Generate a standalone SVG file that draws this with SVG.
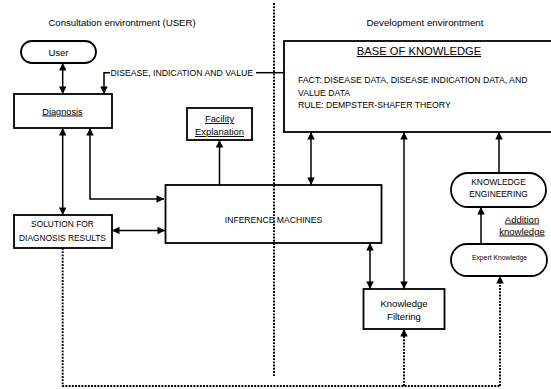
<svg xmlns="http://www.w3.org/2000/svg" width="551" height="389" viewBox="0 0 551 389">
<style>
text{font-family:"Liberation Sans",Arial,sans-serif;fill:#000}
.box{fill:#fff;stroke:#000;stroke-width:1.8}
.ln{fill:none;stroke:#000;stroke-width:1.5}
.dot{fill:none;stroke:#000;stroke-width:1.9;stroke-dasharray:1.9 1.3}
.u{text-decoration:underline}
.c{text-anchor:middle}
</style>
<defs>
<marker id="ah" viewBox="0 0 10 10" refX="10" refY="5" markerWidth="9" markerHeight="7.5" markerUnits="userSpaceOnUse" orient="auto-start-reverse">
<path d="M0,0 L10,5 L0,10 z" fill="#000"/>
</marker>
</defs>
<rect width="551" height="389" fill="#fff"/>
<text x="122" y="26" class="c" font-size="9.6">Consultation environtment (USER)</text>
<text x="425" y="26" class="c" font-size="9.8">Development environtment</text>

<g id="base">
<rect class="box" x="284" y="41" width="280" height="91" stroke-width="2"/>
<text x="419" y="55" class="c u" font-size="11.2">BASE OF KNOWLEDGE</text>
<text x="298" y="83" font-size="8.7">FACT: DISEASE DATA, DISEASE INDICATION DATA, AND</text>
<text x="298" y="96" font-size="8.7">VALUE DATA</text>
<text x="298" y="108" font-size="8.7">RULE: DEMPSTER-SHAFER THEORY</text>
</g>
<g id="user">
<rect class="box" x="21" y="41" width="75" height="22" rx="11"/>
<text x="58.5" y="55.5" class="c" font-size="9.5">User</text>
</g>
<g id="diagnosis">
<rect class="box" x="14" y="94" width="98" height="34"/>
<text x="62.5" y="114.5" class="c u" font-size="9.2">Diagnosis</text>
</g>
<g id="facility">
<rect class="box" x="187" y="108" width="65" height="32"/>
<text x="219.5" y="122" class="c u" font-size="9.4">Facility</text>
<text x="219.5" y="135" class="c u" font-size="9.4">Explanation</text>
</g>
<g id="solution">
<rect class="box" x="14" y="215" width="98" height="33"/>
<text x="62.5" y="227" class="c" font-size="8.4">SOLUTION FOR</text>
<text x="62.5" y="240.5" class="c" font-size="8.4">DIAGNOSIS RESULTS</text>
</g>
<g id="inference">
<rect class="box" x="165.5" y="185" width="216" height="58"/>
<text x="273.5" y="222.5" class="c" font-size="8.6">INFERENCE MACHINES</text>
</g>
<g id="filtering">
<rect class="box" x="363.5" y="289" width="81" height="40"/>
<text x="404" y="306.5" class="c" font-size="9.5">Knowledge</text>
<text x="404" y="319.5" class="c" font-size="9.5">Filtering</text>
</g>
<g id="engineering">
<rect class="box" x="451" y="173" width="95" height="34" rx="17"/>
<text x="498.5" y="184.5" class="c" font-size="8.4">KNOWLEDGE</text>
<text x="498.5" y="197" class="c" font-size="8.4">ENGINEERING</text>
</g>
<g id="expert">
<rect class="box" x="451" y="244" width="96" height="32" rx="16"/>
<text x="499.5" y="259.5" class="c" font-size="6.8">Expert Knowledge</text>
</g>
<g id="addition">
<text x="522" y="222.5" class="c u" font-size="9.5">Addition</text>
<text x="522" y="234.5" class="c u" font-size="9.5">knowledge</text>
</g>

<g id="connectors">
<path class="ln" d="M62.7,63 V94" marker-start="url(#ah)" marker-end="url(#ah)"/>
<path class="ln" d="M284,72.7 H256"/>
<text x="110.5" y="76" font-size="8.7">DISEASE, INDICATION AND VALUE</text>
<path class="ln" d="M110,72.7 H104 V94" marker-end="url(#ah)"/>
<path class="ln" d="M62.7,128 V215" marker-start="url(#ah)" marker-end="url(#ah)"/>
<path class="ln" d="M90,128 V199 H164" marker-start="url(#ah)" marker-end="url(#ah)"/>
<path class="ln" d="M112,230.5 H165" marker-start="url(#ah)" marker-end="url(#ah)"/>
<path class="ln" d="M219.5,185 V140" marker-end="url(#ah)"/>
<path class="ln" d="M311,132 V185" marker-start="url(#ah)" marker-end="url(#ah)"/>
<path class="ln" d="M370,243 V289" marker-start="url(#ah)" marker-end="url(#ah)"/>
<path class="ln" d="M404,132 V289" marker-start="url(#ah)" marker-end="url(#ah)"/>
<path class="ln" d="M499,173 V132" marker-end="url(#ah)"/>
<path class="ln" d="M481,244 V207" marker-end="url(#ah)"/>
<path class="dot" d="M62.7,248 V386 H500"/>
<path class="dot" d="M404,386 V329" marker-end="url(#ah)"/>
<path class="dot" d="M500,386 V276" marker-end="url(#ah)"/>
<path class="dot" d="M274,3 V377"/>
</g>
</svg>
